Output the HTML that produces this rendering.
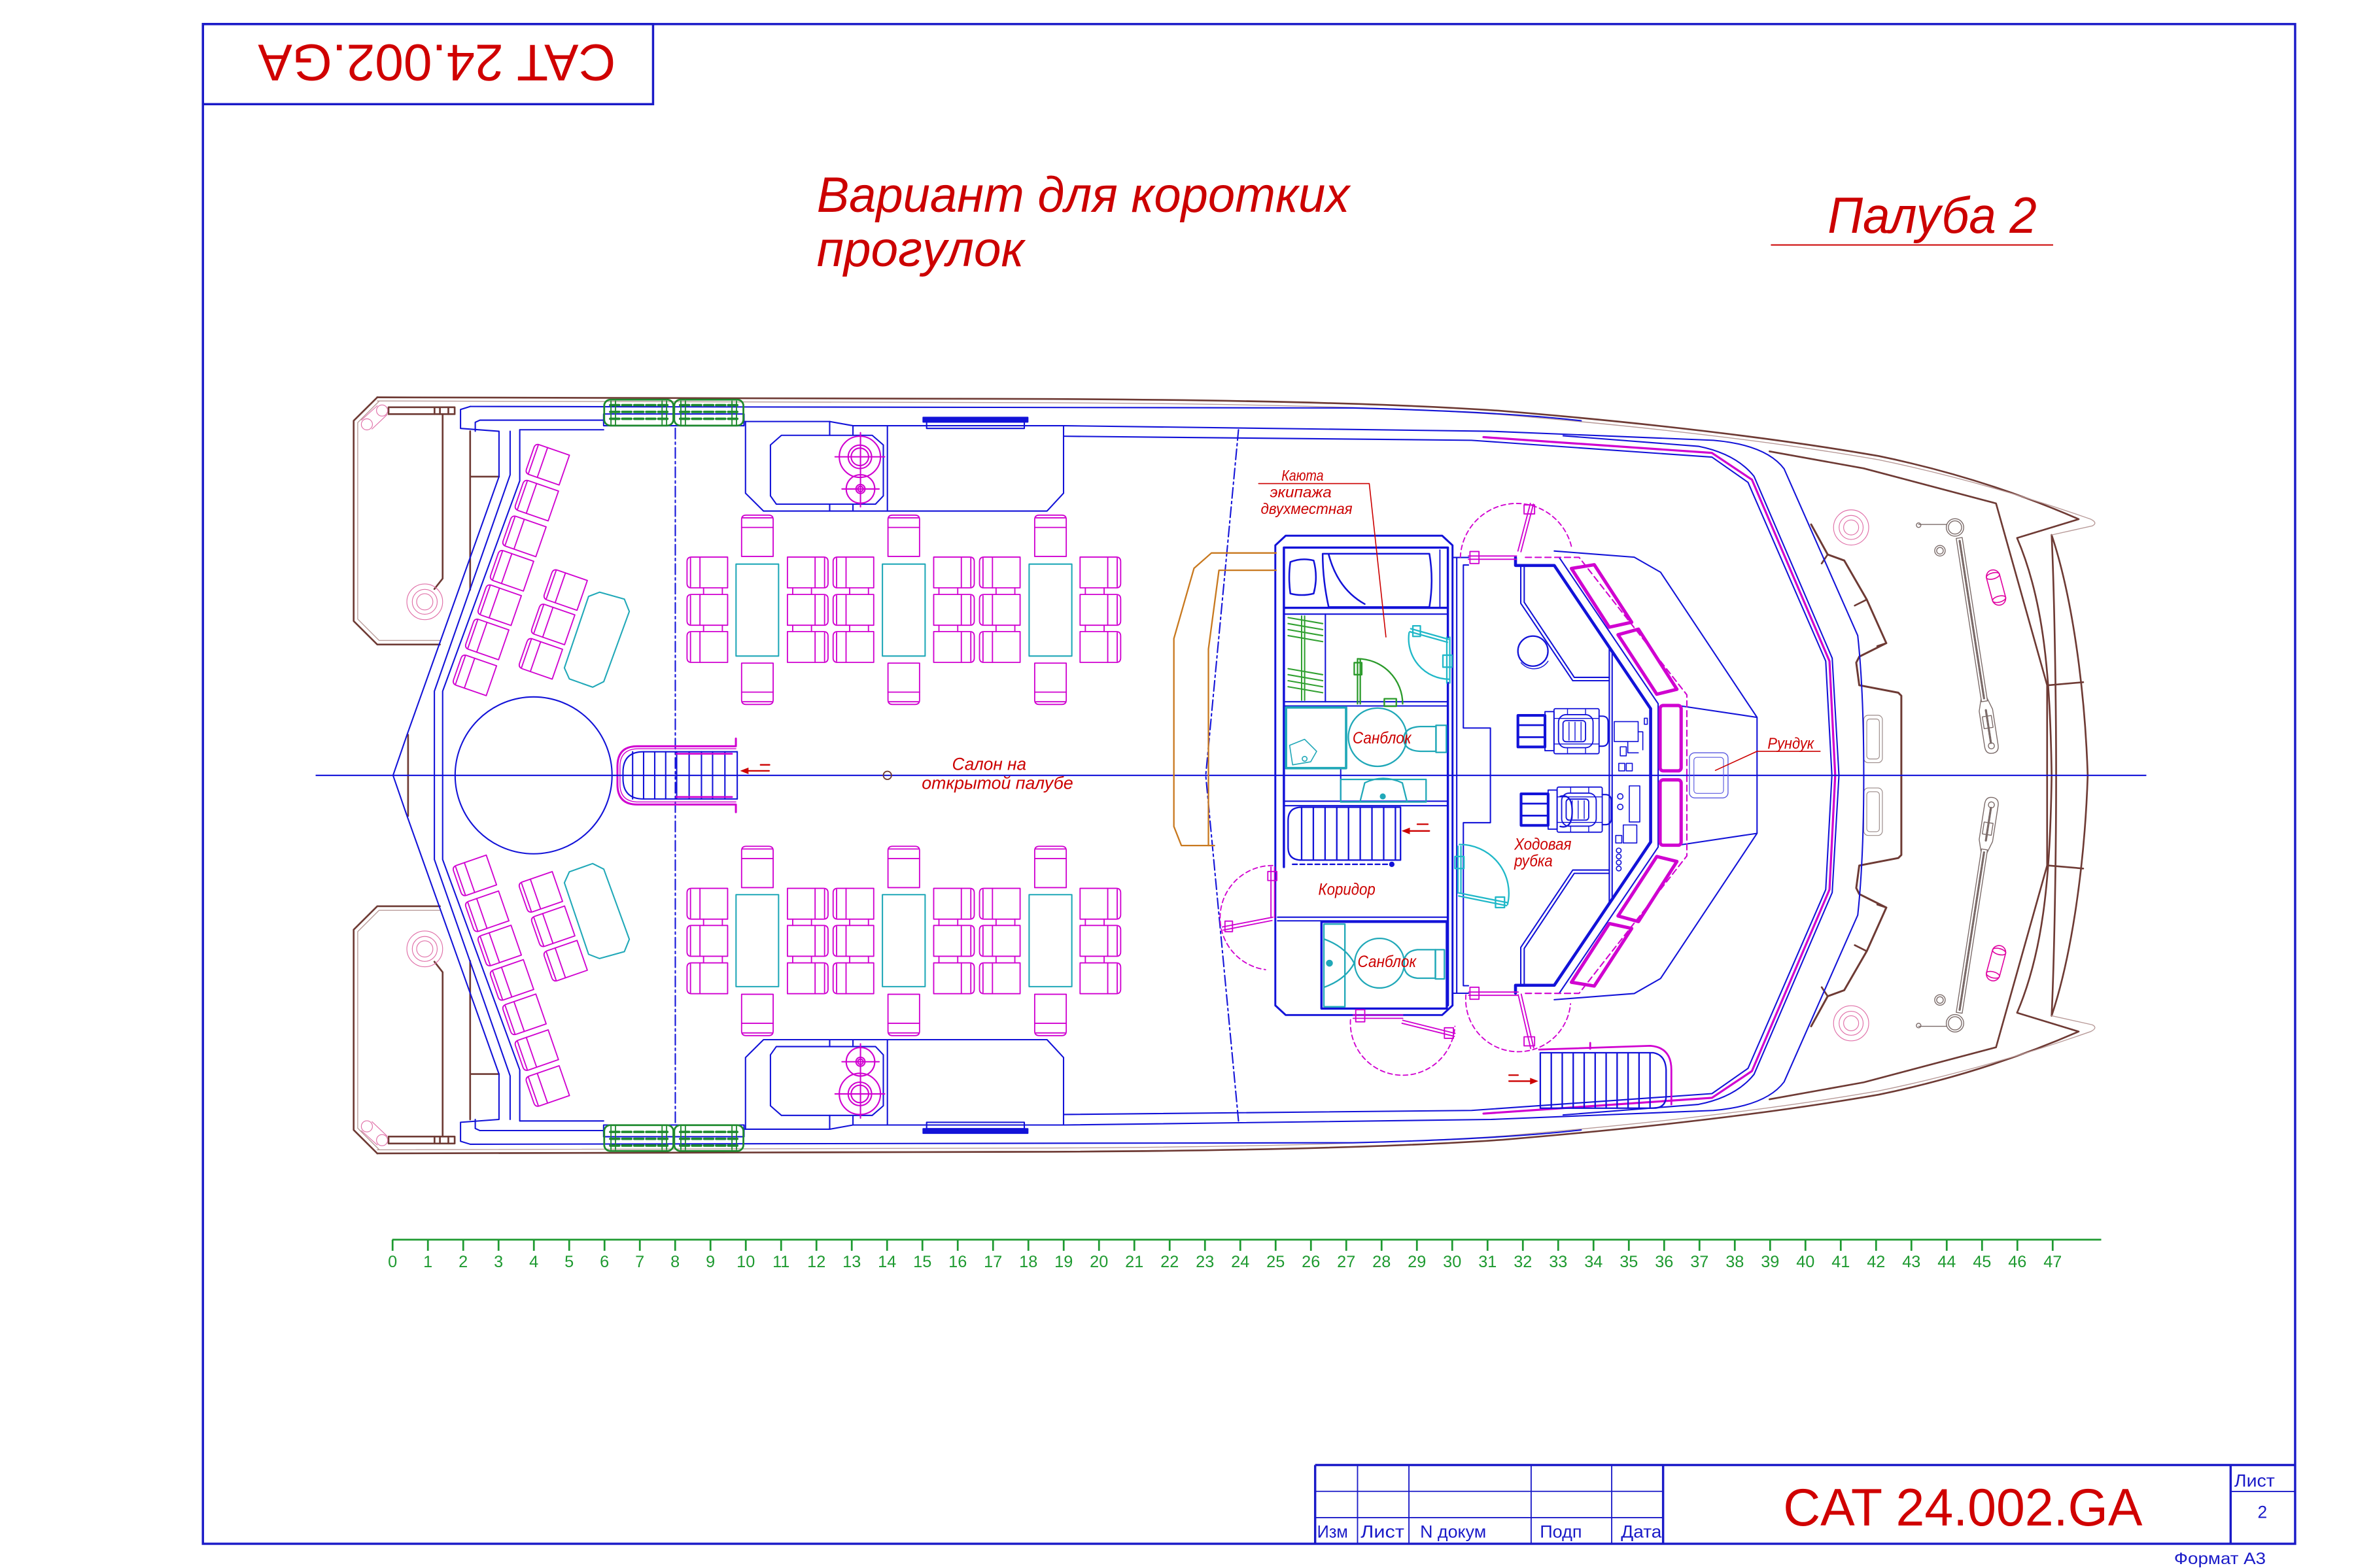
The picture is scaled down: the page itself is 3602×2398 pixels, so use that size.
<!DOCTYPE html>
<html><head><meta charset="utf-8"><title>CAT 24.002.GA</title><style>
html,body{margin:0;padding:0;background:#fff;}
svg{display:block}
</style></head><body>
<svg xmlns="http://www.w3.org/2000/svg" width="3602" height="2398" viewBox="0 0 1567.5 1043.5">
<defs>
<g id="seatL" fill="none" stroke="#d000d0" stroke-width="0.8" stroke-linejoin="round">
 <path d="M3 0H27V20.5H3Q0 20.5 0 17.5V3Q0 0 3 0Z"/>
 <path d="M2.3 0.8V19.7M8.6 0V20.5"/>
</g>
<g id="seatR"><use href="#seatL" transform="matrix(-1 0 0 1 27 0)"/></g>
<g id="colL" fill="none" stroke="#d000d0" stroke-width="0.8">
 <use href="#seatL"/><use href="#seatL" y="24.9"/><use href="#seatL" y="49.6"/>
 <path d="M11 20.5V24.9M23.5 20.5V24.9M11 45.4V49.6M23.5 45.4V49.6"/>
</g>
<g id="colR" fill="none" stroke="#d000d0" stroke-width="0.8">
 <use href="#seatR"/><use href="#seatR" y="24.9"/><use href="#seatR" y="49.6"/>
 <path d="M3.5 20.5V24.9M16 20.5V24.9M3.5 45.4V49.6M16 45.4V49.6"/>
</g>
<g id="chT" fill="none" stroke="#d000d0" stroke-width="0.8" stroke-linejoin="round">
 <path d="M0 27.5V3Q0 0 3 0H18Q21 0 21 3V27.5Z"/>
 <path d="M0.8 1.8H20.2M0 8.2H21"/>
</g>
<g id="seatA" fill="none" stroke="#d000d0" stroke-width="0.8" stroke-linejoin="round">
 <path d="M-9 -10.5H12V10.5H-9Q-12 10.5 -12 7.5V-7.5Q-12 -10.5 -9 -10.5Z"/>
 <path d="M-9.8 -9.8V9.8M-3.4 -10.5V10.5"/>
</g>
<g id="helm" fill="none" stroke="#1212d8">
 <rect x="0" y="4.5" width="18" height="21" stroke-width="1.8"/>
 <path d="M0 11H18M0 19H18" stroke-width="1.2"/>
 <rect x="18" y="2" width="6" height="26" stroke-width="0.8"/>
 <rect x="24" y="0" width="30" height="30" rx="1" stroke-width="0.8"/>
 <rect x="27" y="4" width="23" height="22" rx="5" stroke-width="0.8"/>
 <rect x="30" y="8" width="15" height="14" rx="2" stroke-width="0.8"/>
 <path d="M34 9V21M38 9V21M42 9V21M24 6.5H54M24 23.5H54M33 0V4M45 0V4M33 26V30M45 26V30" stroke-width="0.6"/>
 <path d="M54 5H56Q60 5 60 9V21Q60 25 56 25H54" stroke-width="0.9"/>
</g>

<g id="half" fill="none" stroke-linejoin="round" stroke-linecap="round">
 <!-- brown hull -->
 <g stroke="#6e3a34" stroke-width="1.15">
  <path d="M251 264.4L700 265.5Q900 266.5 1000 273.5Q1150 286 1250 303.5Q1320 318 1383 345.5L1342 358C1360 400 1364 450 1365 516"/>
  <path d="M1365 356C1367 400 1368 470 1368 516"/>
  <path d="M1365 356C1378 395 1387 455 1389 516"/>
  <path d="M1363 456L1386 454"/>
  <path d="M292.7 428.9H251L235.3 413.3V280L251 264.4"/>
  <path d="M294.5 275.6V385L289 392"/>
  <path d="M312.8 287V392.5M312.8 317.2H332"/>
  <path d="M271.5 489V516"/>
  <path d="M1177.3 300.4L1240 311.7L1328 335L1362 456V516"/>
  <path d="M1205 349L1216 369L1227 373L1242 399L1255 428L1237 437L1235 441L1237 456L1263 461L1265 463V516" stroke-width="1.3"/>
  <path d="M1216 369L1212 375M1242 399L1234 403M1255 428L1249 430"/>
  <rect x="258.5" y="271" width="44" height="4.6"/>
  <path d="M289.1 271V275.6M292.7 271V275.6M298.3 271V275.6"/>
 </g>
 <g stroke="#b89a98" stroke-width="0.6">
  <path d="M251 266.8L700 268Q900 269 1000 276Q1150 288.5 1250 306Q1320 320.5 1391 345.5Q1396 348 1392 350L1365 356"/>
  <path d="M292.7 426.2H252.2L238 412V281.2L252.2 267"/>
 </g>
 <!-- pink -->
 <g stroke="#e070a8" stroke-width="0.5">
  <circle cx="282.6" cy="400.5" r="11.9"/><circle cx="282.6" cy="400.5" r="8.3"/><circle cx="282.6" cy="400.5" r="5.4"/>
  <circle cx="244.1" cy="282.4" r="3.7"/><circle cx="254.2" cy="273.2" r="3.7"/>
  <path d="M240.5 279.5L251 270M247.5 285.5L257.5 276"/>
  <circle cx="1231.6" cy="351" r="11.7"/><circle cx="1231.6" cy="351" r="8"/><circle cx="1231.6" cy="351" r="5"/>
 </g>
 <g transform="translate(1328 391) rotate(-15)" stroke="#e000a0" stroke-width="0.7">
  <rect x="-4.5" y="-12" width="9" height="24" rx="4.5"/><ellipse cx="0" cy="-8" rx="4.5" ry="2"/><ellipse cx="0" cy="8" rx="4.5" ry="2"/>
 </g>
 <!-- windlass and chain -->
 <g stroke="#7a6a68" stroke-width="0.6">
  <circle cx="1300.7" cy="351" r="5.8"/><circle cx="1300.7" cy="351" r="4.4"/>
  <path d="M1276.5 349H1295"/><circle cx="1276.5" cy="349.5" r="1.5"/>
  <circle cx="1290.7" cy="366.5" r="3.5"/><circle cx="1290.7" cy="366.5" r="2.2"/>
  <g transform="translate(1303.5 358) rotate(-8.8)">
   <rect x="-2" y="0" width="4" height="110"/>
   <path d="M0 2V108" stroke-dasharray="1.4 0.8" stroke-width="1.4"/>
   <path d="M-2 108L-4.5 116V140Q-4.5 145 0 145Q4.5 145 4.5 140V116L2 108"/>
   <rect x="-3" y="120" width="6" height="8"/><circle cx="0" cy="140" r="2"/>
   <path d="M0 116V138" stroke-dasharray="1.4 0.8" stroke-width="1.4"/>
  </g>
 </g>
 <g stroke="#9a8a88" stroke-width="0.5">
  <rect x="1240" y="476" width="12.4" height="31.6" rx="3"/><rect x="1242" y="478.5" width="8.4" height="26.6" rx="2"/>
 </g>
 <!-- blue structure -->
 <g stroke="#1212d8" stroke-width="0.9">
  <path d="M312.9 270.5L900 271.5Q1000 274 1052 280"/>
  <path d="M312.9 270.5L306.4 272.5V285.1L332 287V317.2L270.7 489.3L261.5 516"/>
  <path d="M316.2 287V281L319.3 279.6H401.6"/>
  <path d="M339.4 287V316L289 460V516"/>
  <path d="M345.8 286V320L294.5 460V516"/>
  <path d="M345.8 286H401.6"/>
  <rect x="401.6" y="275.5" width="93.4" height="7.8"/>
  <path d="M495 280.5H552L567.5 283.3H708L992 287L1140 293Q1175 296 1187 312L1236 423Q1240 460 1240 516"/>
  <path d="M707.6 290.3L979 293L1139 304.2L1163 321L1214.7 440L1218.8 516"/>
  <path d="M1040 290L1130 297Q1155 302 1167 317L1219 438L1223.5 516"/>
  <path d="M496 280.5V328.2L508 340.1H696.6L707.6 328.2V283.3"/>
  <path d="M512.6 296.1L519.9 289.7H580.3L587.7 296.1V330L582.5 335.5H516.5L512.6 330Z"/>
  <path d="M552 280.5V289.7M567.5 283.3V289.7M552 335.5V340.1M567.5 335.5V340.1M590.4 283.3V340.1"/>
  <rect x="614.2" y="277.8" width="69.6" height="3" fill="#1212d8"/>
  <rect x="616.5" y="280.8" width="65" height="4.3"/>
  <path d="M302.8 516A52.2 52.2 0 0 1 407.2 516"/>
  <path d="M490.5 500.3H428Q414.5 500.3 414.5 514V516"/>
  <path d="M420.9 500.3V516M428.2 500.3V516M435.6 500.3V516M442.9 500.3V516M450.2 500.3V516M458.5 500.3V516M466.7 500.3V516M474.1 500.3V516M482.3 500.3V516M490.5 500.3V516"/>
  <path d="M449.3 285V516" stroke-dasharray="7 2.2 1.5 2.2"/>
  <path d="M824 286L802.2 516" stroke-dasharray="7 2.2 1.5 2.2"/>
  <path d="M848.5 516V362.9L855.4 356.5H959.5L966.4 362.9V516" stroke-width="1.3"/>
  <path d="M966.4 371H977M969.2 371V516M973.6 376V484.5H991.6V516M973.6 376H977"/>
  <path d="M1008.3 371V376.3H1034.1L1098.2 471.6V516" stroke-width="2"/>
  <path d="M1037.4 371L1103.2 468.3V516"/>
  <path d="M1034.1 366.7L1087.3 370.8L1104.8 380.8L1169 477.4V516M1119 469.9L1169 477.4"/>
  <path d="M1014.1 376.3V400.8L1047.4 450.8H1070.7M1011.8 376.3V401.5L1046.4 453H1070.7"/>
  <path d="M1070.7 431.6V516M1072.6 434.5V516"/>
 </g>
 <!-- magenta -->
 <g stroke="#d000d0" stroke-width="0.9">
  <path d="M987 290.9L1139 301.4L1165.6 319.2L1217.2 440L1221 516" stroke-width="1.4"/>
  <path d="M489.6 491.5V496.6H424Q410.8 496.6 410.8 510V516" stroke-width="1.3"/>
  <path d="M489.6 498.3H425Q412.5 498.3 412.5 510V516" stroke-width="0.6"/>
  <path d="M450 501.6H487" stroke-width="1.2"/>
  <circle cx="572.1" cy="304" r="13.7"/><circle cx="572.1" cy="304" r="7.8"/><circle cx="572.1" cy="304" r="5.8"/>
  <path d="M555.6 304H588.6M572.5 287.9V337.3M560.2 325.4H584.9"/>
  <circle cx="572.5" cy="325.4" r="9.5"/><circle cx="572.5" cy="325.4" r="3"/><circle cx="572.5" cy="325.4" r="1.8"/>
  <g stroke-width="2.2">
   <path d="M1045.5 378.3L1060.7 375.8L1085.6 414.1L1070.7 417.4Z"/>
   <path d="M1076.5 422.4L1090.1 418.7L1115.7 458.7L1102.3 462Z"/>
   <rect x="1104.5" y="469.5" width="14" height="43.5" rx="2"/>
  </g>
  <path d="M1014.9 370.9H1050.6L1122.3 462.4V516" stroke-dasharray="4 2.5"/>
 </g>
 <!-- seats -->
 <use href="#colL" x="457.1" y="370.7"/>
 <use href="#colR" x="523.9" y="370.7"/>
 <use href="#colL" x="554.3" y="370.7"/>
 <use href="#colR" x="621.2" y="370.7"/>
 <use href="#colL" x="651.7" y="370.7"/>
 <use href="#colR" x="718.6" y="370.7"/>
 <use href="#chT" x="493.4" y="342.8"/>
 <use href="#chT" x="590.8" y="342.8"/>
 <use href="#chT" x="688.4" y="342.8"/>
 <use href="#chT" transform="matrix(1 0 0 -1 493.4 468.8)"/>
 <use href="#chT" transform="matrix(1 0 0 -1 590.8 468.8)"/>
 <use href="#chT" transform="matrix(1 0 0 -1 688.4 468.8)"/>
 <use href="#seatA" transform="translate(364.1 308.9) rotate(19.1)"/>
 <use href="#seatA" transform="translate(356.8 332.8) rotate(19.1)"/>
 <use href="#seatA" transform="translate(348.6 356.6) rotate(19.1)"/>
 <use href="#seatA" transform="translate(340.3 379.5) rotate(19.1)"/>
 <use href="#seatA" transform="translate(332.1 402.4) rotate(19.1)"/>
 <use href="#seatA" transform="translate(323.8 425.2) rotate(19.1)"/>
 <use href="#seatA" transform="translate(315.6 449.1) rotate(19.1)"/>
 <use href="#seatA" transform="translate(376 392.3) rotate(19.1)"/>
 <use href="#seatA" transform="translate(367.7 415.2) rotate(19.1)"/>
 <use href="#seatA" transform="translate(359.5 438.1) rotate(19.1)"/>
 <!-- tables -->
 <g stroke="#20a8b8" stroke-width="0.9">
  <rect x="489.7" y="375.4" width="28.3" height="61.2"/>
  <rect x="587.1" y="375.4" width="28.4" height="61.2"/>
  <rect x="684.7" y="375.4" width="28.4" height="61.2"/>
  <path d="M398.9 394.1L415.4 398.7L418.7 406.9L401.7 453.6L394.3 457.3L378.8 451.8L375.5 444.5L391.6 396.9Z"/>
 </g>
 <!-- rafts -->
 <g stroke="#1e8a2e" stroke-width="1.2">
  <rect x="402" y="266" width="46" height="17.2" rx="4"/>
  <rect x="448.6" y="266" width="46" height="17.2" rx="4"/>
  <path d="M406 269.6H444M406 274.1H444M406 278.7H444M452.5 269.6H490.5M452.5 274.1H490.5M452.5 278.7H490.5" stroke-dasharray="6 2" stroke-width="1.6"/>
  <path d="M406.5 267V282.5M409.5 267V282.5M440.5 267V282.5M443.5 267V282.5M453 267V282.5M456 267V282.5M487 267V282.5M490 267V282.5" stroke-width="0.8"/>
 </g>
</g>
</defs>

<rect x="0" y="0" width="1567.5" height="1043.5" fill="#fff"/>

<!-- symmetric halves -->
<use href="#half"/>
<use href="#half" transform="matrix(1 0 0 -1 0 1032)"/>

<!-- centerline -->
<path d="M210 516H1428" stroke="#1212d8" stroke-width="0.9" fill="none"/>
<circle cx="590.4" cy="516" r="2.7" stroke="#6e3a34" stroke-width="0.8" fill="none"/>

<g fill="none" stroke-linejoin="round" stroke-linecap="round">
 <!-- orange shape -->
 <g stroke="#c8781e" stroke-width="1">
  <path d="M849 368H806L794.4 378.2L781 425V550L786 562.7H808"/>
  <path d="M849 379.5H811L804 432V562.7"/>
 </g>
 <!-- Rundук box -->
 <rect x="1124" y="501" width="25.7" height="30" rx="3.5" stroke="#5a5ae0" stroke-width="0.6"/>
 <rect x="1127" y="504" width="19.7" height="24" rx="2" stroke="#5a5ae0" stroke-width="0.5"/>
 <!-- bridge items -->
 <use href="#helm" transform="translate(1009.9 471.6)"/>
 <use href="#helm" transform="translate(1012 523.8)"/>
 <circle cx="1019.9" cy="433.3" r="10" stroke="#1212d8" stroke-width="1"/>
 <path d="M1012 441A11.2 11.2 0 0 0 1030 440" stroke="#1212d8" stroke-width="0.6"/>
 <g stroke="#1212d8" stroke-width="0.7">
  <rect x="1074" y="480.2" width="15.9" height="13.3"/>
  <path d="M1089.9 487H1093V499M1083 493.5V501H1090"/>
  <rect x="1078" y="497" width="4" height="6"/>
  <rect x="1077" y="508" width="4" height="5"/><rect x="1082" y="508" width="4" height="5"/>
  <rect x="1084" y="523" width="7" height="24"/>
  <circle cx="1078" cy="530" r="1.8"/><circle cx="1078" cy="537" r="1.8"/>
  <rect x="1080" y="549" width="9" height="12"/>
  <rect x="1075" y="556" width="4" height="5"/>
  <circle cx="1077" cy="566" r="1.6"/><circle cx="1077" cy="570" r="1.6"/><circle cx="1077" cy="574" r="1.6"/><circle cx="1077" cy="578" r="1.6"/>
  <rect x="1094" y="478" width="2" height="4"/>
  <path d="M1038 530Q1046 528 1046 540Q1046 552 1038 550" stroke-width="1"/>
 </g>

 <!-- cabin interior walls -->
 <g stroke="#1212d8" stroke-width="1.5">
  <path d="M854.2 577V364.4H963.3V424M963.3 454.5V669"/>
  <path d="M855 404.5H962.5"/>
 </g>
 <g stroke="#1212d8" stroke-width="0.9">
  <path d="M855 408.7H962.5"/>
  <path d="M855 467H962.5M855 469.8H962.5"/>
  <path d="M854 533.2H963M854 536.2H963"/>
  <path d="M850 610.4H963M850 612.8H963"/>
  <path d="M881.8 408.7V467"/>
  <path d="M892 511.4V533"/>
  <path d="M848.5 516V669.5"/>
 </g>
 <!-- bed -->
 <g stroke="#1212d8" stroke-width="1.1">
  <path d="M858.5 374Q866 371 874 373Q877 384 874 395Q866 397 858.5 395Q857 384 858.5 374Z"/>
  <path d="M880 368.5H951Q954 386 951 404H884Q880 386 880 368.5Z"/>
  <path d="M884 369Q890 392 908 402"/>
  <path d="M958 366V404" stroke-width="0.8"/>
 </g>
 <!-- wardrobe -->
 <g stroke="#30a030" stroke-width="0.9">
  <path d="M857 411L880 415M857 415L880 419M857 419L880 423M857 423L880 427M857 445L880 449M857 449L880 453M857 453L880 457M857 457L880 461"/>
  <path d="M866 410V466M868 410V466"/>
 </g>
 <!-- green door -->
 <g stroke="#2a9a2a" stroke-width="1">
  <path d="M903.2 438.4V468.4M905 438.4V468.4"/>
  <path d="M903.2 438.4A30 30 0 0 1 933.2 468.4"/>
  <rect x="901" y="441" width="5" height="8"/><rect x="921" y="465" width="8" height="5"/>
 </g>
 <!-- cyan doors -->
 <g stroke="#20b8c8" stroke-width="1">
  <path d="M962.6 424V454.5M964.6 424V454.5"/>
  <path d="M963.6 425.4L938.6 418.4M963 427.4L938 420.4"/>
  <path d="M937.5 421A27 27 0 0 0 964 452"/>
  <rect x="960" y="436" width="6" height="8"/><rect x="940" y="416.5" width="5" height="7"/>
  <path d="M970 563.2V594.3M972 563.2V594.3"/>
  <path d="M970.9 594.3L1002.8 600.7M970.5 596.3L1002.3 602.7"/>
  <path d="M1003 602A32.5 32.5 0 0 0 971 562"/>
  <rect x="968" y="570" width="6" height="8"/><rect x="995" y="597" width="6" height="7"/>
 </g>
 <!-- sanblok top -->
 <g stroke="#20a8b8" stroke-width="1">
  <rect x="855.6" y="470.8" width="40" height="40.4" stroke-width="1.6"/>
  <circle cx="916.5" cy="490.6" r="19.4"/>
  <path d="M955.4 483.5H945Q934 484 934 491.7Q934 499.5 945 500H955.4Z"/>
  <rect x="955.4" y="482.7" width="6.9" height="18"/>
  <path d="M858 496L868 492L876 500L872 507L860 509Z" stroke-width="0.7"/>
  <circle cx="868" cy="505" r="1.6" stroke-width="0.7"/>
  <rect x="892" y="518.7" width="56.8" height="15"/>
  <path d="M905 533L908 521Q920 515 933 521L936 533"/>
  <circle cx="920" cy="530" r="1.5" fill="#20a8b8"/>
 </g>
 <!-- cabin stair -->
 <g stroke="#1212d8" stroke-width="1">
  <path d="M931.8 537.2H866Q857 537.2 857 546V564Q857 572.4 866 572.4H931.8Z"/>
  <path d="M866 537.2V572.4M873.8 537.2V572.4M881.6 537.2V572.4M889.4 537.2V572.4M897.2 537.2V572.4M905 537.2V572.4M912.8 537.2V572.4M920.6 537.2V572.4M928.4 537.2V572.4"/>
  <path d="M860 575.2H925" stroke-dasharray="3 2"/>
  <circle cx="926" cy="575.2" r="1.3" fill="#1212d8"/>
 </g>
 <!-- lower sanblok -->
 <rect x="879.2" y="613.5" width="83.4" height="57.7" stroke="#1212d8" stroke-width="1.5"/>
 <g stroke="#20a8b8" stroke-width="1">
  <rect x="880.8" y="615" width="14" height="55"/>
  <path d="M881 625Q895 630 901 641Q895 652 881 657"/>
  <circle cx="884.5" cy="641" r="1.8" fill="#20a8b8"/>
  <circle cx="917.8" cy="641" r="16.5"/>
  <path d="M955 632H943Q934 633 934 641.5Q934 650 943 651H955Z"/>
  <rect x="955" y="632" width="6" height="19.5"/>
 </g>
 <!-- magenta doors -->
 <g stroke="#d000d0" stroke-width="0.8">
  <path d="M845.6 577V610.8M848 577V610.8"/>
  <path d="M846.8 610.4L813.3 616.9M846.3 612.6L813.8 619"/>
  <rect x="843.5" y="580" width="6" height="6"/>
  <rect x="815" y="613" width="5" height="7"/>
  <path d="M846.8 576A34.8 34.8 0 0 0 842 645.3" stroke-dasharray="3 2.2"/>

  <path d="M900.3 675.5H933.3M900.3 677.7H933.3"/>
  <path d="M933.3 679L968.1 687.7M932.8 681L967.6 689.7"/>
  <rect x="902" y="672" width="6" height="8"/><rect x="961" y="684" width="6" height="7"/>
  <path d="M898.5 678.6A34.8 34.8 0 0 0 968 683" stroke-dasharray="3 2.2"/>

  <path d="M977.2 660.2H1010.1M977.2 662.4H1010.1"/>
  <path d="M1010.1 662L1018.4 697.8M1012.1 661.6L1020.4 697.4"/>
  <rect x="978" y="657" width="6" height="8"/><rect x="1014" y="690" width="7" height="6"/>
  <path d="M975.3 662A34.8 34.8 0 0 0 1044.9 668" stroke-dasharray="3 2.2"/>

  <path d="M977 370H1009M977 372.2H1009"/>
  <path d="M1009.9 366.7L1018.2 335M1011.9 367.2L1020.2 335.5"/>
  <rect x="978" y="367" width="6" height="8"/><rect x="1014" y="336" width="7" height="6"/>
  <path d="M971.6 370.9A37.5 37.5 0 0 1 1045.8 365" stroke-dasharray="3 2.2"/>
 </g>
 <!-- aft bottom stair -->
 <g stroke="#1212d8" stroke-width="1">
  <path d="M1024.8 700.6H1100Q1108 702 1108.5 712V730Q1108 737.5 1100 737.5H1024.8Z"/>
  <path d="M1032.1 700.6V737.5M1039.4 700.6V737.5M1046.7 700.6V737.5M1054 700.6V737.5M1061.3 700.6V737.5M1068.6 700.6V737.5M1075.9 700.6V737.5M1083.2 700.6V737.5M1090.5 700.6V737.5M1097.8 700.6V737.5"/>
 </g>
 <path d="M1024 698.5L1098 696Q1112 697 1112 712V735M1058 694V698" stroke="#d000d0" stroke-width="1.2"/>
 <!-- red arrows -->
 <g stroke="#cc0000" stroke-width="1">
  <path d="M495 513H511.7M506 509H512"/>
  <path d="M936 553H951M943 548.5H950"/>
  <path d="M1004 719.5H1019M1004 715.5H1010"/>
 </g>
 <g fill="#cc0000" stroke="none">
  <path d="M492.4 513L498 510.8V515.2Z"/>
  <path d="M932.5 553L938 550.8V555.2Z"/>
  <path d="M1023.5 719.5L1018 717.3V721.7Z"/>
 </g>
 <!-- leaders -->
 <g stroke="#cc0000" stroke-width="0.7">
  <path d="M837.4 321.8H911L922.1 423.9"/>
  <path d="M1211 500H1169L1141.3 512.7"/>
 </g>
</g>

<!-- labels -->
<g font-family="'Liberation Sans', 'Noto Sans CJK SC', sans-serif" font-style="italic" fill="#cc0000">
 <text x="852.6" y="319.8" font-size="10" textLength="28" lengthAdjust="spacingAndGlyphs">Каюта</text>
 <text x="844.9" y="331" font-size="10" textLength="41" lengthAdjust="spacingAndGlyphs">экипажа</text>
 <text x="838.8" y="342.1" font-size="10" textLength="61" lengthAdjust="spacingAndGlyphs">двухместная</text>
 <text x="899.9" y="494.7" font-size="11" textLength="39" lengthAdjust="spacingAndGlyphs">Санблок</text>
 <text x="877.1" y="595.5" font-size="11" textLength="38" lengthAdjust="spacingAndGlyphs">Коридор</text>
 <text x="903.2" y="643.7" font-size="11" textLength="39" lengthAdjust="spacingAndGlyphs">Санблок</text>
 <text x="1007.5" y="565.5" font-size="11" textLength="38" lengthAdjust="spacingAndGlyphs">Ходовая</text>
 <text x="1007.5" y="576.6" font-size="11" textLength="25.5" lengthAdjust="spacingAndGlyphs">рубка</text>
 <text x="1176" y="498.2" font-size="10.5" textLength="30.8" lengthAdjust="spacingAndGlyphs">Рундук</text>
 <text x="633.4" y="512.3" font-size="11.5" textLength="49.4" lengthAdjust="spacingAndGlyphs">Салон на</text>
 <text x="613.3" y="525" font-size="11.5" textLength="100.7" lengthAdjust="spacingAndGlyphs">открытой палубе</text>
 <text x="543.4" y="141" font-size="33" textLength="354.5" lengthAdjust="spacingAndGlyphs">Вариант для коротких</text>
 <text x="543.4" y="177" font-size="33" textLength="138" lengthAdjust="spacingAndGlyphs">прогулок</text>
 <text x="1216" y="155" font-size="34" textLength="139" lengthAdjust="spacingAndGlyphs">Палуба 2</text>
</g>
<path d="M1178.2 163H1366" stroke="#cc0000" stroke-width="0.9"/>

<!-- scale bar -->
<g stroke="#1e9a30" stroke-width="1.2" fill="none">
 <path d="M261 825H1398"/>
 <path d="M261.2 825V832.4M284.7 825V832.4M308.2 825V832.4M331.7 825V832.4M355.2 825V832.4M378.7 825V832.4M402.2 825V832.4M425.7 825V832.4M449.2 825V832.4M472.7 825V832.4M496.2 825V832.4M519.7 825V832.4M543.2 825V832.4M566.7 825V832.4M590.2 825V832.4M613.7 825V832.4M637.2 825V832.4M660.7 825V832.4M684.2 825V832.4M707.7 825V832.4M731.2 825V832.4M754.7 825V832.4M778.2 825V832.4M801.7 825V832.4M825.2 825V832.4M848.7 825V832.4M872.2 825V832.4M895.7 825V832.4M919.2 825V832.4M942.7 825V832.4M966.2 825V832.4M989.7 825V832.4M1013.2 825V832.4M1036.7 825V832.4M1060.2 825V832.4M1083.7 825V832.4M1107.2 825V832.4M1130.7 825V832.4M1154.2 825V832.4M1177.7 825V832.4M1201.2 825V832.4M1224.7 825V832.4M1248.2 825V832.4M1271.7 825V832.4M1295.2 825V832.4M1318.7 825V832.4M1342.2 825V832.4M1365.7 825V832.4"/>
</g>
<g font-family="'Liberation Sans', sans-serif" font-size="11" fill="#1e9a30" text-anchor="middle">
 <text x="261.2" y="843.4">0</text><text x="284.7" y="843.4">1</text><text x="308.2" y="843.4">2</text><text x="331.7" y="843.4">3</text><text x="355.2" y="843.4">4</text><text x="378.7" y="843.4">5</text><text x="402.2" y="843.4">6</text><text x="425.7" y="843.4">7</text><text x="449.2" y="843.4">8</text><text x="472.7" y="843.4">9</text>
 <text x="496.2" y="843.4">10</text><text x="519.7" y="843.4">11</text><text x="543.2" y="843.4">12</text><text x="566.7" y="843.4">13</text><text x="590.2" y="843.4">14</text><text x="613.7" y="843.4">15</text><text x="637.2" y="843.4">16</text><text x="660.7" y="843.4">17</text><text x="684.2" y="843.4">18</text><text x="707.7" y="843.4">19</text>
 <text x="731.2" y="843.4">20</text><text x="754.7" y="843.4">21</text><text x="778.2" y="843.4">22</text><text x="801.7" y="843.4">23</text><text x="825.2" y="843.4">24</text><text x="848.7" y="843.4">25</text><text x="872.2" y="843.4">26</text><text x="895.7" y="843.4">27</text><text x="919.2" y="843.4">28</text><text x="942.7" y="843.4">29</text>
 <text x="966.2" y="843.4">30</text><text x="989.7" y="843.4">31</text><text x="1013.2" y="843.4">32</text><text x="1036.7" y="843.4">33</text><text x="1060.2" y="843.4">34</text><text x="1083.7" y="843.4">35</text><text x="1107.2" y="843.4">36</text><text x="1130.7" y="843.4">37</text><text x="1154.2" y="843.4">38</text><text x="1177.7" y="843.4">39</text>
 <text x="1201.2" y="843.4">40</text><text x="1224.7" y="843.4">41</text><text x="1248.2" y="843.4">42</text><text x="1271.7" y="843.4">43</text><text x="1295.2" y="843.4">44</text><text x="1318.7" y="843.4">45</text><text x="1342.2" y="843.4">46</text><text x="1365.7" y="843.4">47</text>
</g>

<!-- sheet frame -->
<g fill="none" stroke="#1a1ac8">
 <rect x="135" y="16" width="1392" height="1011.4" stroke-width="1.5"/>
 <rect x="135" y="16" width="299.5" height="53.3" stroke-width="1.5"/>
 <path d="M875 975H1527M875 975V1027.4M1106.5 975V1027.4M1484.1 975V1027.4" stroke-width="1.5"/>
 <path d="M875 992.5H1106.5M875 1010H1106.5M903.2 975V1027.4M937.4 975V1027.4M1018.7 975V1027.4M1072.3 975V1027.4M1484.1 992.6H1527" stroke-width="0.8"/>
</g>
<text x="171.6" y="54.3" font-family="'Liberation Sans', sans-serif" font-size="34.5" fill="#d00000" textLength="238" lengthAdjust="spacingAndGlyphs" transform="rotate(180 290.6 42)">CAT 24.002.GA</text>
<text x="1186.4" y="1015.3" font-family="'Liberation Sans', sans-serif" font-size="35" fill="#d00000" textLength="239" lengthAdjust="spacingAndGlyphs">CAT 24.002.GA</text>
<g font-family="'Liberation Sans', sans-serif" font-size="11.5" fill="#1a1ac8">
 <text x="876.3" y="1023.4" textLength="20.5" lengthAdjust="spacingAndGlyphs">Изм</text>
 <text x="905.3" y="1023.4" textLength="29" lengthAdjust="spacingAndGlyphs">Лист</text>
 <text x="944.8" y="1023.4" textLength="44" lengthAdjust="spacingAndGlyphs">N докум</text>
 <text x="1024.5" y="1023.4" textLength="28" lengthAdjust="spacingAndGlyphs">Подп</text>
 <text x="1078.5" y="1023.4" textLength="27" lengthAdjust="spacingAndGlyphs">Дата</text>
 <text x="1486.5" y="989.3" textLength="27" lengthAdjust="spacingAndGlyphs">Лист</text>
 <text x="1502" y="1010.3">2</text>
 <text x="1446.5" y="1041" font-size="11" textLength="61" lengthAdjust="spacingAndGlyphs">Формат А3</text>
</g>
</svg>
</body></html>
